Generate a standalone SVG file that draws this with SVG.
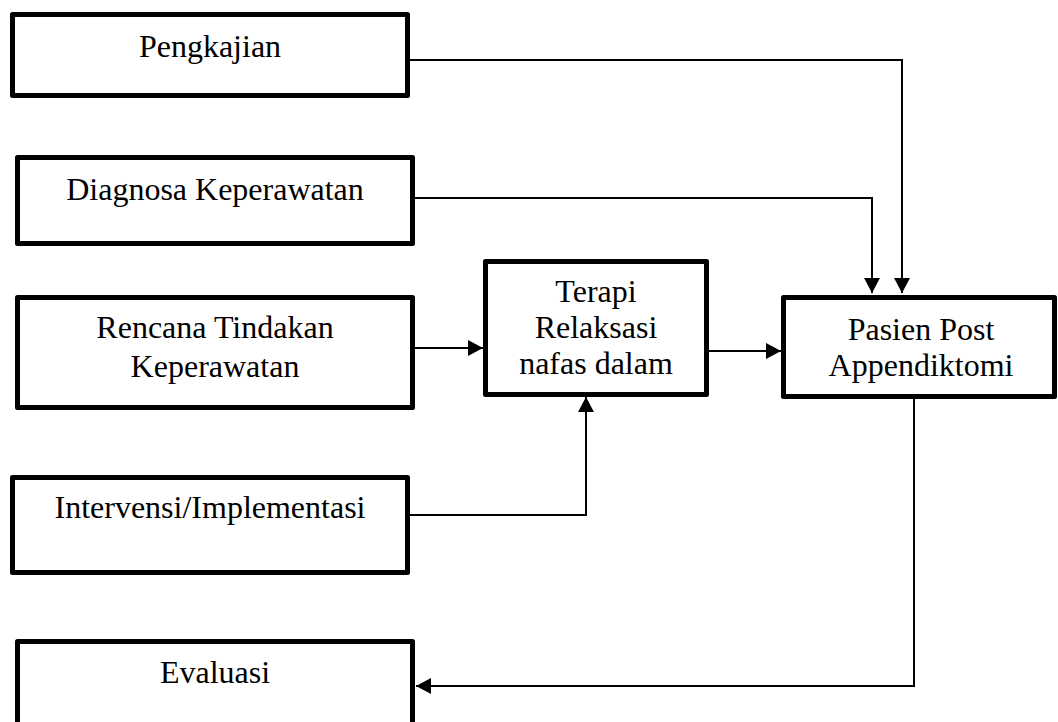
<svg xmlns="http://www.w3.org/2000/svg" width="1058" height="722" viewBox="0 0 1058 722">
<style>
.box{fill:#fff;stroke:#000;stroke-width:5;stroke-linejoin:round}
.lbl{font-family:"Liberation Serif","Times New Roman",serif;font-size:32px;fill:#000;text-anchor:middle}
.conn{fill:none;stroke:#000;stroke-width:2}
</style>
<defs>
<marker id="arr" markerUnits="userSpaceOnUse" markerWidth="16" markerHeight="16" refX="15" refY="8" orient="auto" viewBox="0 0 16 16">
<path d="M0,0 L15,8 L0,16 z" fill="#000"/>
</marker>
</defs>
<rect width="1058" height="722" fill="#fff"/>
<g id="connectors">
<path class="conn" d="M410 60 H902 V293" marker-end="url(#arr)"/>
<path class="conn" d="M415 198 H872 V293" marker-end="url(#arr)"/>
<path class="conn" d="M415 348 H483" marker-end="url(#arr)"/>
<path class="conn" d="M709 351 H781" marker-end="url(#arr)"/>
<path class="conn" d="M410 515 H586 V397" marker-end="url(#arr)"/>
<path class="conn" d="M914 399 V686 H416" marker-end="url(#arr)"/>
</g>
<g id="pengkajian">
<rect class="box" x="12.5" y="14.5" width="395" height="81"/>
<text class="lbl" x="210" y="57">Pengkajian</text>
</g>
<g id="diagnosa">
<rect class="box" x="17.5" y="157.5" width="395" height="86"/>
<text class="lbl" x="215" y="200">Diagnosa Keperawatan</text>
</g>
<g id="rencana">
<rect class="box" x="17.5" y="297.5" width="395" height="110"/>
<text class="lbl" x="215" y="338">Rencana Tindakan</text>
<text class="lbl" x="215" y="377">Keperawatan</text>
</g>
<g id="intervensi">
<rect class="box" x="12.5" y="477.5" width="395" height="95"/>
<text class="lbl" x="210" y="518">Intervensi/Implementasi</text>
</g>
<g id="evaluasi">
<rect class="box" x="17.5" y="641.5" width="395" height="95"/>
<text class="lbl" x="215" y="683">Evaluasi</text>
</g>
<g id="terapi">
<rect class="box" x="485.5" y="261.5" width="221" height="133"/>
<text class="lbl" x="596" y="302">Terapi</text>
<text class="lbl" x="596" y="338">Relaksasi</text>
<text class="lbl" x="596" y="374">nafas dalam</text>
</g>
<g id="pasien">
<rect class="box" x="783.5" y="297.5" width="271" height="99"/>
<text class="lbl" x="921" y="340">Pasien Post</text>
<text class="lbl" x="921" y="376">Appendiktomi</text>
</g>
</svg>
